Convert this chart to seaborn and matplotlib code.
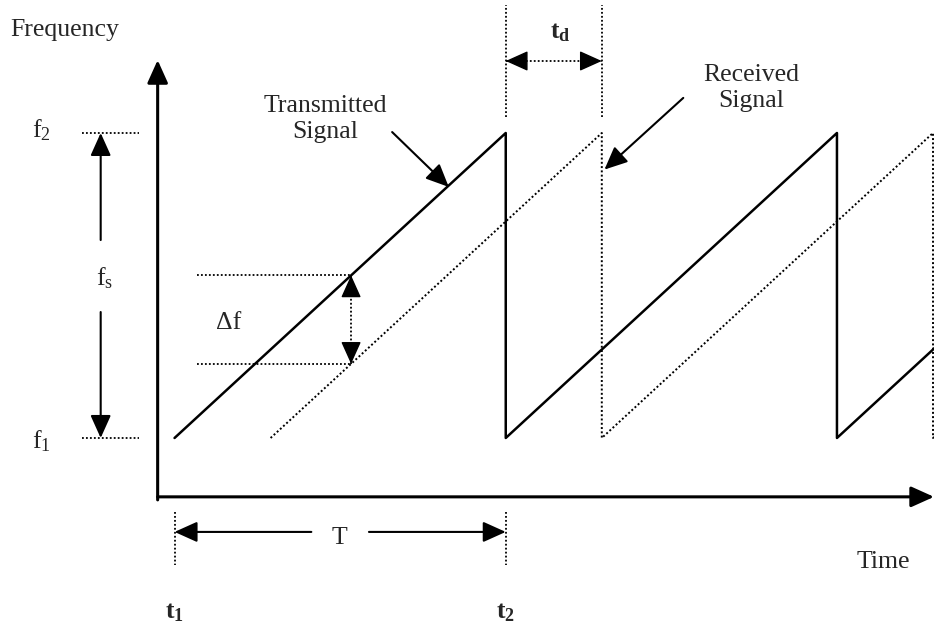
import numpy as np
import pandas as pd
import seaborn as sns
import matplotlib.pyplot as plt

# FMCW sawtooth, time in units of the sweep period T (t1 = 0, t2 = 1),
# frequency normalised so that f1 = 0 and f2 = 1
tx_time = [0, 1, 1, 2, 2, 3]
tx_freq = [0, 1, 0, 1, 0, 1]
t_delay = 0.29
rx_time = [0.29, 1.29, 1.29, 2.29, 2.29, 3.29]
rx_freq = [0, 1, 0, 1, 0, 1]
t_probe = 0.533  # where delta f is measured

freq_labels = ["f$_1$", "f$_2$"]
time_labels = [r"$\mathbf{t_1}$", r"$\mathbf{t_2}$"]

sns.set_style("white")
plt.rcParams["font.family"] = ["Liberation Serif", "DejaVu Serif"]
plt.rcParams["mathtext.fontset"] = "custom"
plt.rcParams["mathtext.rm"] = "Liberation Serif"
plt.rcParams["mathtext.it"] = "Liberation Serif:italic"
plt.rcParams["mathtext.bf"] = "Liberation Serif:bold"

FS = 18.5
DOT = (0, (1, 1.2))

fig = plt.figure(figsize=(9.34, 6.28), dpi=100)
ax = fig.add_axes([0, 0, 1, 1])
ax.set_xlim(-0.527, 2.293)
ax.set_ylim(-0.623, 1.436)
ax.set_axis_off()


def arrow(start, end, lw=1.5):
    ax.annotate("", xy=end, xytext=start,
                arrowprops=dict(arrowstyle="-|>,head_length=1.0,head_width=0.45",
                                mutation_scale=14, lw=lw, color="black",
                                shrinkA=0, shrinkB=0))


def head(tip, dx, dy):
    # filled arrow head only, pointing at tip, coming from offset (dx, dy) points
    ax.annotate("", xy=tip, xytext=(dx, dy), textcoords="offset points",
                arrowprops=dict(arrowstyle="-|>,head_length=1.0,head_width=0.45",
                                mutation_scale=14, lw=1, color="black",
                                shrinkA=0, shrinkB=0))


def dotted(xs, ys):
    ax.plot(xs, ys, color="black", lw=1.3, ls=DOT)


# signals
sns.lineplot(x=tx_time, y=tx_freq, sort=False, estimator=None,
             color="black", lw=1.8, ax=ax)
sns.lineplot(x=rx_time, y=rx_freq, sort=False, estimator=None,
             color="black", lw=1.4, ls=DOT, ax=ax)

# axes with arrows
x0, y0 = -0.051, -0.193
arrow((x0, y0 - 0.01), (x0, 1.239), lw=2.2)
arrow((x0, y0), (2.293, y0), lw=2.2)
ax.text(-0.497, 1.338, "Frequency", fontsize=FS, ha="left", va="center")
ax.text(2.139, -0.407, "Time", fontsize=FS, ha="center", va="center")

# f1 / f2 levels and sweep width fs
dotted([-0.28, -0.108], [tx_freq[1], tx_freq[1]])
dotted([-0.28, -0.108], [tx_freq[0], tx_freq[0]])
ax.text(-0.401, 1.01, freq_labels[1], fontsize=FS, ha="center", va="center")
ax.text(-0.401, -0.01, freq_labels[0], fontsize=FS, ha="center", va="center")
arrow((-0.223, 0.649), (-0.223, 1.0))
arrow((-0.223, 0.413), (-0.223, 0.0))
ax.text(-0.211, 0.525, "f$_\\mathrm{s}$", fontsize=FS, ha="center", va="center")

# delta f between transmitted and received
f_hi = t_probe
f_lo = t_probe - t_delay
dotted([0.069, t_probe], [f_hi, f_hi])
dotted([0.069, t_probe], [f_lo, f_lo])
dotted([t_probe, t_probe], [f_hi, f_lo])
head((t_probe, f_hi), 0, -14)
head((t_probe, f_lo), 0, 14)
ax.text(0.163, 0.377, "\u0394f", fontsize=FS, ha="center", va="center")

# signal labels
ax.text(0.455, 1.045, "Transmitted\nSignal", fontsize=FS, ha="center",
        va="center", linespacing=1.25)
arrow((0.657, 1.003), (0.828, 0.823))
ax.text(1.741, 1.148, "Received\nSignal", fontsize=FS, ha="center",
        va="center", linespacing=1.25)
arrow((1.536, 1.115), (1 + t_delay + 0.008, 0.88))

# delay td
dotted([1, 1], [1.052, 1.42])
dotted([1 + t_delay, 1 + t_delay], [1.052, 1.42])
dotted([1, 1 + t_delay], [1.236, 1.236])
head((1, 1.236), 14, 0)
head((1 + t_delay, 1.236), -14, 0)
ax.text(1.166, 1.328, "t$_\\mathbf{d}$", fontsize=FS, ha="center", va="center",
        fontweight="bold")

# sweep period T
yT = -0.308
dotted([0, 0], [-0.243, -0.416])
dotted([1, 1], [-0.243, -0.416])
arrow((0.413, yT), (0, yT))
arrow((0.587, yT), (1, yT))
ax.text(0.497, -0.328, "T", fontsize=FS, ha="center", va="center")
ax.text(0, -0.574, time_labels[0], fontsize=FS, ha="center", va="center")
ax.text(1, -0.574, time_labels[1], fontsize=FS, ha="center", va="center")

fig.savefig("out.png", dpi=100)
